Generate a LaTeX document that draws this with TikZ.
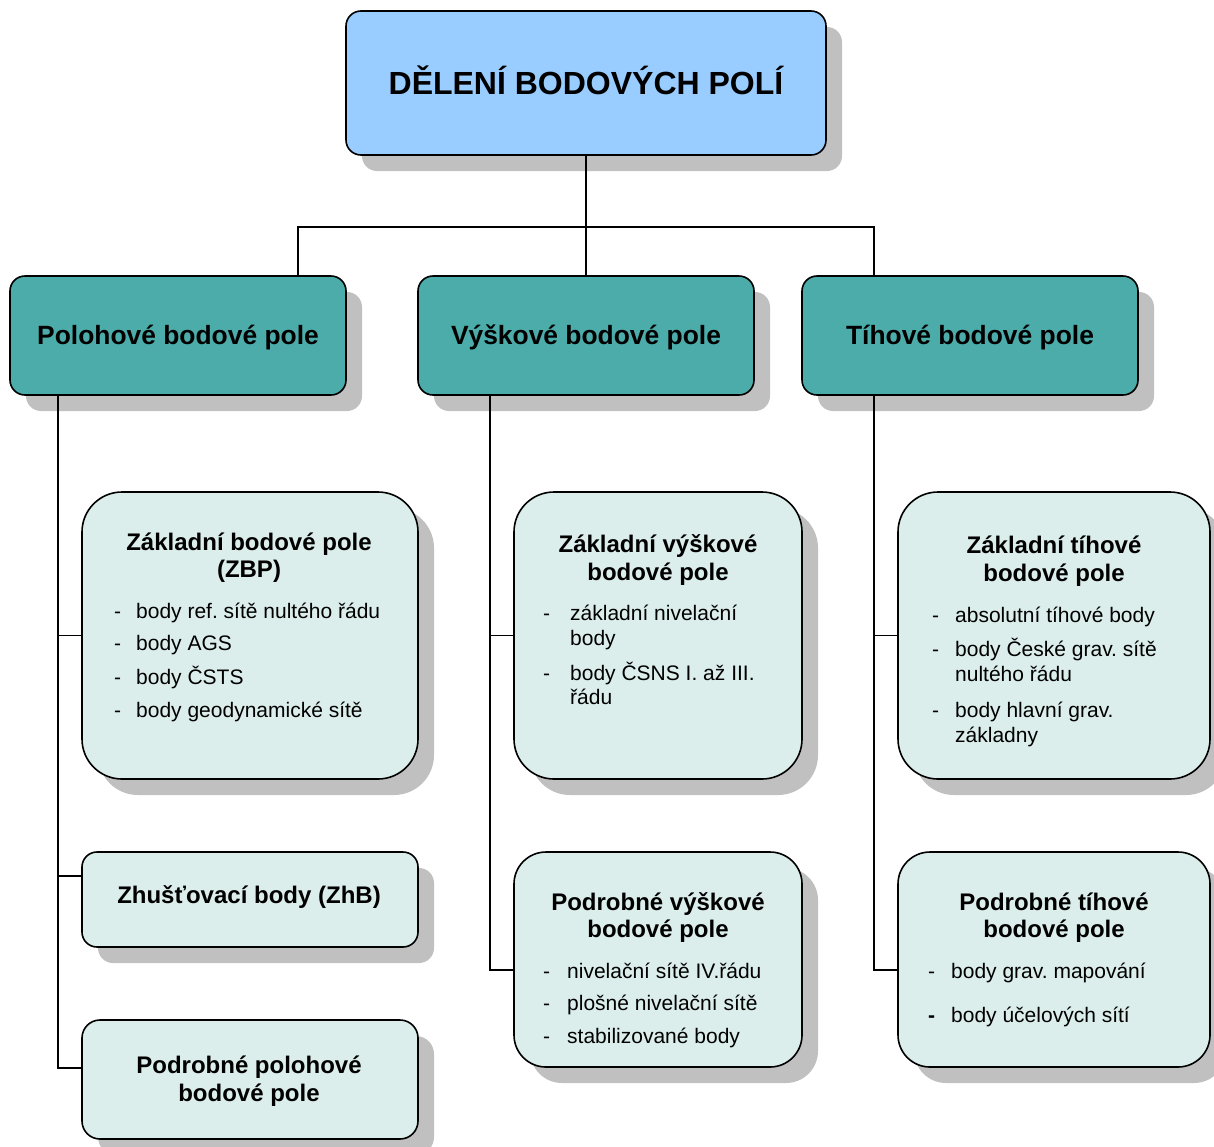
\documentclass[tikz,border=0pt]{standalone}
\usepackage{fontspec}
\setmainfont{Liberation Sans}
\usetikzlibrary{shadows}
\definecolor{topblue}{HTML}{99CCFF}
\definecolor{tealbox}{HTML}{4BACAA}
\definecolor{lightbox}{HTML}{DBEEEC}
\definecolor{shadegray}{HTML}{C0C0C0}
\frenchspacing
\begin{document}
\begin{tikzpicture}[x=1pt,y=-1pt,
  box/.style={draw=black, line width=1.6pt, anchor=north west, inner sep=0pt, outer sep=0pt,
    drop shadow={shadow xshift=16pt, shadow yshift=-16pt, fill=shadegray, opacity=1}},
  conn/.style={line width=1.5pt, draw=black},
  ftop/.style={font=\fontsize{32}{38}\selectfont\bfseries, text height=22pt, text depth=0pt},
  flev/.style={font=\fontsize{26.4}{31}\selectfont\bfseries, text height=18.5pt, text depth=0pt},
  ttl/.style={inner sep=0pt, anchor=center, font=\fontsize{24}{28}\selectfont\bfseries, text height=16.8pt, text depth=0pt},
  itm/.style={inner sep=0pt, anchor=west, font=\fontsize{21}{25}\selectfont, text height=14.7pt, text depth=0pt},
  dsh/.style={inner sep=0pt, anchor=west, font=\fontsize{21}{25}\selectfont, text height=14.7pt, text depth=0pt},
]
\useasboundingbox (0,0) rectangle (1214,1146);
\fill[white] (0,0) rectangle (1214,1146);

% boxes
\node[box, fill=topblue, rounded corners=15pt, minimum width=480pt, minimum height=144pt, ftop] (top) at (346,11) {DĚLENÍ BODOVÝCH POLÍ};
\node[box, fill=tealbox, rounded corners=15pt, minimum width=336pt, minimum height=119pt, flev] (pol) at (10,276) {Polohové bodové pole};
\node[box, fill=tealbox, rounded corners=15pt, minimum width=336pt, minimum height=119pt, flev] (vys) at (418,276) {Výškové bodové pole};
\node[box, fill=tealbox, rounded corners=15pt, minimum width=336pt, minimum height=119pt, flev] (tih) at (802,276) {Tíhové bodové pole};

\node[box, fill=lightbox, rounded corners=40pt, minimum width=336pt, minimum height=287pt] (zbp) at (82,492) {};
\node[box, fill=lightbox, rounded corners=15pt, minimum width=336pt, minimum height=95pt] (zhb) at (82,852) {};
\node[box, fill=lightbox, rounded corners=18pt, minimum width=336pt, minimum height=119pt] (ppp) at (82,1020) {};
\node[box, fill=lightbox, rounded corners=40pt, minimum width=288pt, minimum height=287pt] (zvp) at (514,492) {};
\node[box, fill=lightbox, rounded corners=32pt, minimum width=288pt, minimum height=215pt] (pvp) at (514,852) {};
\node[box, fill=lightbox, rounded corners=40pt, minimum width=312pt, minimum height=287pt] (ztp) at (898,492) {};
\node[box, fill=lightbox, rounded corners=32pt, minimum width=312pt, minimum height=215pt] (ptp) at (898,852) {};

% texts: Zakladni bodove pole
\node[ttl] (zbpT1) at (249,542) {Základní bodové pole};
\node[ttl] (zbpT2) at (249,569) {(ZBP)};
\node[dsh] (zbpD1) at (114,611) {-};
\node[itm] (zbpI1) at (136,611) {body ref. sítě nultého řádu};
\node[dsh] (zbpD2) at (114,643) {-};
\node[itm] (zbpI2) at (136,643) {body AGS};
\node[dsh] (zbpD3) at (114,677) {-};
\node[itm] (zbpI3) at (136,677) {body ČSTS};
\node[dsh] (zbpD4) at (114,710) {-};
\node[itm] (zbpI4) at (136,710) {body geodynamické sítě};

\node[ttl] (zhbT) at (249,895) {Zhušťovací body (ZhB)};
\node[ttl] (pppT1) at (249,1065) {Podrobné polohové};
\node[ttl] (pppT2) at (249,1093) {bodové pole};

% Zakladni vyskove
\node[ttl] (zvpT1) at (658,544) {Základní výškové};
\node[ttl] (zvpT2) at (658,572) {bodové pole};
\node[dsh] (zvpD1) at (543,613) {-};
\node[itm] (zvpI1) at (570,613) {základní nivelační};
\node[itm] (zvpI1b) at (570,638) {body};
\node[dsh] (zvpD2) at (543,673) {-};
\node[itm] (zvpI2) at (570,673) {body ČSNS I. až III.};
\node[itm] (zvpI2b) at (570,697) {řádu};

% Podrobne vyskove
\node[ttl] (pvpT1) at (658,902) {Podrobné výškové};
\node[ttl] (pvpT2) at (658,929) {bodové pole};
\node[dsh] (pvpD1) at (543,971) {-};
\node[itm] (pvpI1) at (567,971) {nivelační sítě IV.řádu};
\node[dsh] (pvpD2) at (543,1003) {-};
\node[itm] (pvpI2) at (567,1003) {plošné nivelační sítě};
\node[dsh] (pvpD3) at (543,1036) {-};
\node[itm] (pvpI3) at (567,1036) {stabilizované body};

% Zakladni tihove
\node[ttl] (ztpT1) at (1054,545) {Základní tíhové};
\node[ttl] (ztpT2) at (1054,573) {bodové pole};
\node[dsh] (ztpD1) at (932,615) {-};
\node[itm] (ztpI1) at (955,615) {absolutní tíhové body};
\node[dsh] (ztpD2) at (932,649) {-};
\node[itm] (ztpI2) at (955,649) {body České grav. sítě};
\node[itm] (ztpI2b) at (955,674) {nultého řádu};
\node[dsh] (ztpD3) at (932,710) {-};
\node[itm] (ztpI3) at (955,710) {body hlavní grav.};
\node[itm] (ztpI3b) at (955,735) {základny};

% Podrobne tihove
\node[ttl] (ptpT1) at (1054,902) {Podrobné tíhové};
\node[ttl] (ptpT2) at (1054,929) {bodové pole};
\node[dsh] (ptpD1) at (928,971) {-};
\node[itm] (ptpI1) at (951,971) {body grav. mapování};
\node[dsh, font=\fontsize{21}{25}\selectfont\bfseries] (ptpD2) at (928,1015) {-};
\node[itm] (ptpI2) at (951,1015) {body účelových sítí};

% connectors
\coordinate (bL) at (298,227);
\coordinate (bR) at (874,227);
\coordinate (xL) at (58,0);
\coordinate (xM) at (490,0);
\coordinate (xR) at (874,0);
\coordinate (yZhb) at (0,876);
\coordinate (yPpp) at (0,1068);
\coordinate (yPod) at (0,970);

\draw[conn] (top.south) -- (vys.north);
\draw[conn] (bL |- pol.north) -- (bL) -- (bR) -- (bR |- tih.north);

\draw[conn] (xL |- pol.south) |- (ppp.west |- yPpp);
\draw[conn] (xL |- zbp.west) -- (zbp.west);
\draw[conn] (xL |- yZhb) -- (zhb.west |- yZhb);

\draw[conn] (xM |- vys.south) |- (pvp.west |- yPod);
\draw[conn] (xM |- zvp.west) -- (zvp.west);

\draw[conn] (xR |- tih.south) |- (ptp.west |- yPod);
\draw[conn] (xR |- ztp.west) -- (ztp.west);
\end{tikzpicture}
\end{document}
